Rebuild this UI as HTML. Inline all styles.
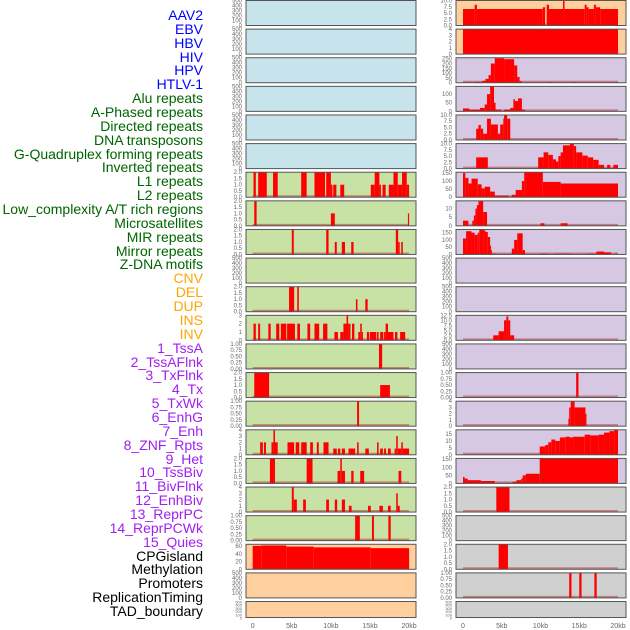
<!DOCTYPE html>
<html><head><meta charset="utf-8">
<style>
html,body{margin:0;padding:0;background:#fff;}
body{width:630px;height:630px;overflow:hidden;position:relative;font-family:"Liberation Sans",sans-serif;}
.lbl{position:absolute;right:427px;font-size:14px;line-height:14px;white-space:nowrap;}
svg{position:absolute;left:0;top:0;}
</style></head>
<body>
<div id="labels"></div>
<svg id="chart" width="630" height="630"></svg>
<script>
const labelNames = ["AAV2","EBV","HBV","HIV","HPV","HTLV-1","Alu repeats","A-Phased repeats","Directed repeats","DNA transposons","G-Quadruplex forming repeats","Inverted repeats","L1 repeats","L2 repeats","Low_complexity A/T rich regions","Microsatellites","MIR repeats","Mirror repeats","Z-DNA motifs","CNV","DEL","DUP","INS","INV","1_TssA","2_TssAFlnk","3_TxFlnk","4_Tx","5_TxWk","6_EnhG","7_Enh","8_ZNF_Rpts","9_Het","10_TssBiv","11_BivFlnk","12_EnhBiv","13_ReprPC","14_ReprPCWk","15_Quies","CPGisland","Methylation","Promoters","ReplicationTiming","TAD_boundary"];
const labelGroups = [6,13,5,15,5];
const groupColors = ["#0000ff","#006400","#ffa500","#a020f0","#000000"];

const E5 = ["0","100","200","300","400","500"];
const T2 = ["0.0","0.5","1.0","1.5","2.0"];
const T1 = ["0.00","0.25","0.50","0.75","1.00"];
const T10 = ["0.0","2.5","5.0","7.5","10.0"];

const leftBg = ["#c7e4ec","#c7e4ec","#c7e4ec","#c7e4ec","#c7e4ec","#c7e4ec","#c8e1a5","#c8e1a5","#c8e1a5","#c8e1a5","#c8e1a5","#c8e1a5","#c8e1a5","#c8e1a5","#c8e1a5","#c8e1a5","#c8e1a5","#c8e1a5","#c8e1a5","#ffd09d","#ffd09d","#ffd09d"];
const rightBg = ["#ffd09d","#ffd09d","#d6c7e2","#d6c7e2","#d6c7e2","#d6c7e2","#d6c7e2","#d6c7e2","#d6c7e2","#d6c7e2","#d6c7e2","#d6c7e2","#d6c7e2","#d6c7e2","#d6c7e2","#d6c7e2","#d6c7e2","#d0d0d0","#d0d0d0","#d0d0d0","#d0d0d0","#d0d0d0"];

const leftTicks = [E5,E5,E5,E5,E5,E5,T2,T2,T2,E5,T2,["0","1","2","3"],T1,T2,T1,["0","1","2","3","4"],T2,["0","1","2","3","4"],T1,["0","20","40","60"],E5,E5];
const leftYMax = [500,500,500,500,500,500,2,2,2,500,2,3,1,2,1,4,2,4,1,65,500,500];
const leftSegs = [[],[],[],[],[],[],
 [[0.1,0.4,2],[0.7,1.8,2],[2.6,3.2,2],[6.2,6.9,2],[7.9,9.25,2],[9.4,10.0,2],[10.0,10.2,1],[10.3,10.7,1],[11.2,11.7,1],[15.1,15.6,1],[15.6,16.2,2],[16.2,16.4,1],[16.6,17.0,1],[17.4,18.0,1],[18.0,18.55,2],[18.55,19.1,1],[19.1,19.7,2],[19.7,20,1]],
 [[0.2,0.5,2],[10.0,10.5,1],[19.85,20,1]],
 [[5.0,5.25,2],[9.4,9.7,2],[10.5,10.75,1],[11.4,11.8,1],[12.6,12.9,1],[18.3,18.6,2],[18.6,18.8,1],[19.0,19.2,1]],
 [],
 [[4.65,5.3,2],[5.7,5.9,2],[13.2,13.4,1],[14.4,14.7,1]],
 [[0.1,0.4,2],[0.7,0.95,2],[2.0,2.3,2],[3.0,3.4,2],[3.6,4.3,2],[4.4,5.4,2],[5.7,6.05,2],[7.0,7.35,2],[7.9,8.5,2],[9.0,9.55,2],[10.45,10.9,1],[11.2,11.6,1],[11.6,12.0,2],[12.0,12.2,3],[12.2,12.5,2],[12.7,13.0,2],[13.5,13.75,1],[13.75,13.95,2],[13.95,14.1,1],[14.6,14.9,1],[15.0,15.8,1],[15.9,16.1,1],[16.3,16.7,1],[16.8,17.0,1],[17.0,17.3,2],[17.3,18.0,1],[18.2,18.5,1],[18.85,19.5,1]],
 [[16.15,16.55,1]],
 [[0.2,2.1,2],[16.3,17.55,1]],
 [[13.35,13.6,1]],
 [[0.95,1.3,2],[1.45,1.7,2],[2.4,2.65,2],[2.65,2.85,4],[2.85,3.2,2],[4.45,5.3,2],[5.5,5.95,2],[6.2,6.9,2],[7.35,7.7,2],[8.2,8.45,2],[9.05,9.7,2],[10.3,10.75,1],[10.9,11.2,1],[11.4,11.8,1],[12.25,13.1,1],[13.35,13.55,2],[14.4,14.85,1],[15.9,16.1,2],[16.3,16.65,1],[16.8,17.05,1],[17.3,17.65,1],[18.15,18.35,1],[18.35,18.55,3],[18.55,19.0,1],[19.0,19.2,2],[19.2,20,1]],
 [[2.2,2.85,2],[6.9,7.65,2],[10.85,11.2,1],[11.2,11.4,2],[11.4,11.8,1],[12.6,12.9,1],[13.75,14.25,1],[18.65,19.0,1]],
 [[5.0,5.25,4],[5.25,5.65,2],[6.45,6.8,2],[9.4,9.75,2],[10.5,10.8,2],[11.4,11.8,2],[12.3,12.65,1],[14.75,15.1,1],[16.2,16.65,1],[17.3,17.65,1],[18.35,18.55,3],[18.55,18.8,1]],
 [[13.1,13.7,1],[15.25,15.5,1],[17.35,17.65,1]],
 [[0,1.1,61],[1.1,4.3,62],[4.3,7.8,59],[7.8,15.1,57],[15.1,20,55]],
 [],[]];

const rightTicks = [T10,["0","1","2","3","4"],["0","50","100","150","200","250"],["0","50","100"],T10,T10,["0","50","100","150"],["0","5","10"],["0","50","100","150"],E5,E5,["0.0","2.5","5.0","7.5","10.0","12.5"],E5,T1,["0","1","2","3","4"],["0","5","10","15"],["0","50","100","150"],T2,E5,T2,T1,E5];
const rightYMax = [10,4,260,145,10,10,155,14.5,172,500,500,12.5,500,1,4,18,155,2,500,2,1,500];
const rightSegs = [
 [[0,1.5,6.6],[1.5,1.8,8.3],[1.8,10.3,6.6],[10.3,10.6,7.3],[10.8,11.1,8.3],[11.1,12.9,6.6],[12.9,13.1,10],[13.1,15.7,6.6],[15.7,15.95,8.3],[15.95,16.2,7.3],[16.2,16.9,6.6],[16.9,17.15,8.3],[17.15,17.7,7.3],[17.7,20,6.6]],
 [[0,20,4]],
 [[0.1,0.8,5],[1.5,2.5,8],[2.5,2.9,20],[2.9,3.3,40],[3.3,3.6,80],[3.6,4.1,200],[4.1,5.3,255],[5.3,6.6,245],[6.6,7.0,180],[7.0,7.3,60],[7.3,7.6,15],[11.1,11.6,6],[14.2,14.6,6],[19.6,20,6]],
 [[0,0.8,17],[0.8,2.2,10],[2.2,2.8,20],[2.8,3.1,40],[3.1,3.5,100],[3.5,4.0,145],[4.0,4.2,50],[4.2,4.9,10],[5.3,6.1,10],[6.1,6.5,20],[6.5,6.7,70],[6.7,7.1,60],[7.1,7.6,75],[7.6,8.0,10]],
 [[1.7,2.0,4.5],[2.0,2.3,6],[2.3,2.6,4.5],[2.6,3.1,2.5],[3.1,3.6,8.5],[3.6,4.5,6.2],[4.5,4.8,2.5],[4.8,5.2,6.2],[5.2,5.3,8.5],[5.3,5.7,10],[5.7,6.1,8.5]],
 [[1.7,3.2,4.5],[9.7,10.4,4.5],[10.4,11.0,6.5],[11.0,11.6,5.5],[11.6,12.0,3.7],[12.0,12.3,2.8],[12.3,12.6,5],[12.6,12.9,6.5],[12.9,13.8,9.3],[13.8,14.3,10],[14.3,14.6,9],[14.6,15.4,6.5],[15.4,16.1,5.2],[16.1,16.8,4.5],[16.8,17.5,3.5],[17.5,18.2,1.5],[18.6,19.0,1.5],[19.4,20,1.5]],
 [[0,0.3,150],[0.3,0.7,120],[0.7,1.1,85],[1.1,1.9,115],[1.9,2.4,80],[2.4,2.8,55],[2.8,3.5,65],[3.5,4.1,35],[4.1,5.9,10],[5.9,6.3,3],[6.3,6.8,15],[6.8,7.6,45],[7.6,7.9,100],[7.9,8.2,160],[8.2,10.3,180],[10.3,12.6,95],[12.6,20,85]],
 [[0,0.7,3],[1.2,1.4,3],[1.4,1.6,6],[1.6,1.8,10],[1.8,2.0,12],[2.0,2.6,14.5],[2.6,3.1,8],[10.0,10.5,1.5],[12.6,13.5,1.5]],
 [[0,0.4,110],[0.4,1.1,160],[1.1,1.5,150],[1.5,1.9,135],[1.9,2.1,150],[2.1,2.7,170],[2.7,2.9,165],[2.9,3.2,155],[3.2,3.5,120],[3.5,3.6,60],[3.6,3.7,30],[3.7,4.4,5],[6.3,6.6,40],[6.6,7.0,100],[7.0,7.7,145],[7.7,8.0,30],[9.9,10.9,5],[11.7,13.9,5],[16.0,17.2,5],[17.2,18.2,20],[18.2,19.1,15],[19.6,20,5]],
 [],[],
 [[3.9,4.6,2.5],[4.6,5.3,4.5],[5.3,5.6,10],[5.6,5.85,12],[5.85,6.1,10],[6.1,6.6,2.5]],
 [],
 [[14.6,14.9,1]],
 [[13.6,13.7,1.2],[13.7,13.9,3],[13.9,14.4,4],[14.4,15.8,3],[15.8,15.9,2]],
 [[9.9,10.6,6],[10.6,11.0,7],[11.0,11.4,9],[11.4,11.9,11],[11.9,12.5,10],[12.5,13.2,12.5],[13.2,13.8,13],[13.8,14.2,12.5],[14.2,15.7,13],[15.7,16.4,14.5],[16.4,17.5,14],[17.5,18.2,14.5],[18.2,18.9,16],[18.9,19.5,17],[19.5,20,18]],
 [[0,0.2,40],[0.2,0.6,30],[0.6,2.3,20],[2.3,4.1,15],[4.1,6.4,3],[6.4,6.9,10],[6.9,7.5,20],[7.5,7.7,30],[7.7,8.1,50],[8.1,9.9,60],[9.9,20,160]],
 [[4.3,6.0,2]],
 [],
 [[4.6,5.8,2]],
 [[13.7,14.0,1],[15.0,15.3,1],[16.95,17.25,1]],
 []];

const xTickVals = [0,5,10,15,20];
const xTickLabels = ["0","5kb","10kb","15kb","20kb"];

const NS="http://www.w3.org/2000/svg";
const svg=document.getElementById('chart');
function mk(tag,attrs,parent){const e=document.createElementNS(NS,tag);for(const k in attrs)e.setAttribute(k,attrs[k]);(parent||svg).appendChild(e);return e;}

// labels
const labDiv=document.getElementById('labels');
let li=0;
labelGroups.forEach((n,g)=>{for(let k=0;k<n;k++){const d=document.createElement('div');d.className='lbl';d.textContent=labelNames[li];d.style.color=groupColors[g];d.style.top=(8+li*13.86)+'px';


labDiv.appendChild(d);li++;}});

const cols=[{x0:246,x1:416,z:252.7,k:7.82,bg:leftBg,ticks:leftTicks,ym:leftYMax,segs:leftSegs,name:'left'},
            {x0:456,x1:626,z:463,k:7.75,bg:rightBg,ticks:rightTicks,ym:rightYMax,segs:rightSegs,name:'right'}];
function panelTop(i){return 0.5+i*28.62;}
function panelH(i){return i===21?16:25;}

cols.forEach(c=>{
 const xs=v=>c.z+v*c.k;
 for(let i=0;i<22;i++){
  const top=panelTop(i),h=panelH(i),bot=top+h;
  const ys=v=>bot-Math.min(v,c.ym[i])/c.ym[i]*h;
  const g=mk('g',{});
  
  
  mk('rect',{x:c.x0,y:top,width:c.x1-c.x0,height:h,fill:c.bg[i],stroke:'none'},g);
  const segs=c.segs[i];
  if(c.ym[i]!==500){
   const bl=mk('line',{x1:xs(0),x2:xs(20),y1:bot-1,y2:bot-1,stroke:'rgba(170,30,30,0.45)','stroke-width':2},g);
   
   
  }
  segs.forEach(s=>{
   const r=mk('rect',{x:xs(s[0]),y:ys(s[2]),width:Math.max(1,xs(s[1])-xs(s[0])),height:bot-ys(s[2]),fill:'#ff0000'},g);
   
   
  });
  mk('rect',{x:c.x0,y:top,width:c.x1-c.x0,height:h,fill:'none',stroke:'#555','stroke-width':1},g);
  c.ticks[i].forEach(t=>{
   const v=parseFloat(t);
   let y=ys(v);
   const tx=mk('text',{x:c.x0-4,y:y+2,'text-anchor':'end','font-size':(i===21?4:6),fill:'#666','font-family':'Liberation Sans, sans-serif'},g);
   tx.textContent=t;
   
   
  });
 }
 xTickVals.forEach((v,j)=>{
  const t=mk('text',{x:xs(v),y:628,'text-anchor':'middle','font-size':7,fill:'#666','font-family':'Liberation Sans, sans-serif'});
  t.textContent=xTickLabels[j];
  
  
 });
});
</script>
</body></html>
